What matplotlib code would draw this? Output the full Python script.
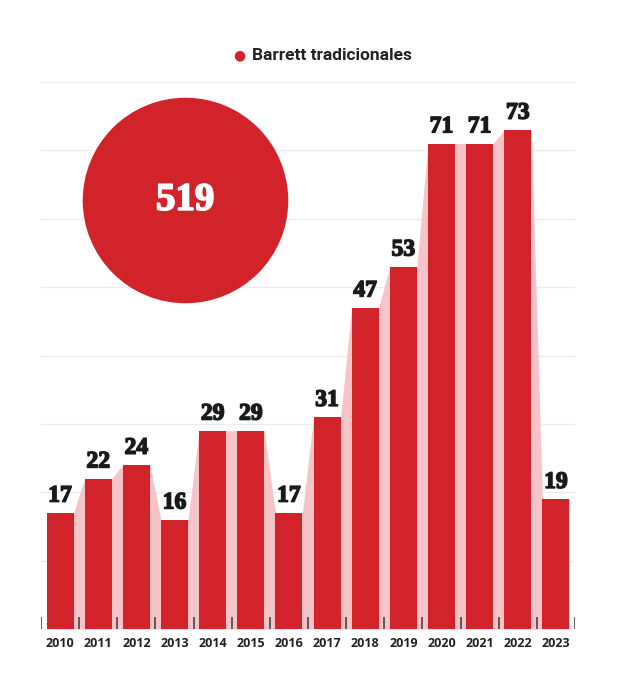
import matplotlib.pyplot as plt
import matplotlib.patheffects as pe
import numpy as np

years = ['2010', '2011', '2012', '2013', '2014', '2015', '2016',
         '2017', '2018', '2019', '2020', '2021', '2022', '2023']
values = [17, 22, 24, 16, 29, 29, 17, 31, 47, 53, 71, 71, 73, 19]
total = 519
serie = 'Barrett tradicionales'

rojo = '#d2232a'
rosa = '#f6c3c8'
w = 0.71

fig = plt.figure(figsize=(6.18, 6.89), dpi=100)
ax = fig.add_axes([41 / 618, 1 - 629 / 689, 534 / 618, 547 / 689])

x = np.arange(len(years))

# area rosa que une las barras
px, py = [], []
for i, v in zip(x, values):
    px += [i - w / 2, i + w / 2]
    py += [v, v]
ax.fill_between(px, py, 0, color=rosa, lw=0, zorder=1)

ax.bar(x, values, width=w, color=rojo, zorder=2)
grueso = [pe.withStroke(linewidth=1.1, foreground='#1a1a1a')]
for i, v in zip(x, values):
    ax.text(i, v + 0.9, str(v), ha='center', va='bottom', fontsize=17,
            fontweight='bold', family='Liberation Serif', color='#1a1a1a',
            zorder=3, path_effects=grueso)

# circulo con el total
ax.scatter([3.28], [62.7], s=148 ** 2, color=rojo, lw=0, zorder=3, clip_on=False)
ax.text(3.28, 62.7, str(total), ha='center', va='center', fontsize=28,
        fontweight='bold', family='Liberation Serif', color='white', zorder=4,
        path_effects=[pe.withStroke(linewidth=1.3, foreground='white')])

ax.set_xlim(-0.5, len(years) - 0.5)
ax.set_ylim(0, 80)
ax.set_yticks(range(10, 81, 10))
ax.yaxis.grid(True, color='#ececec', lw=1, zorder=0)
ax.set_axisbelow(True)
ax.tick_params(axis='y', left=False, labelleft=False)

ax.set_xticks(x)
ax.set_xticklabels(years, fontsize=9, fontweight='bold', family='Open Sans', color='#222222')
ax.tick_params(axis='x', which='major', length=0, pad=6)

# marcas entre categorias, por encima de las barras
ax.vlines(np.arange(-0.5, len(years)), 0, 1.75, color='#444444', lw=1.2, zorder=5)

for s in ax.spines.values():
    s.set_visible(False)

# leyenda
fig.text(239 / 618, 1 - 55 / 689, '\u25cf', color=rojo, fontsize=10, ha='center', va='center')
fig.text(252 / 618, 1 - 55 / 689, serie, fontsize=12.5, fontweight='bold',
         family='Roboto', color='#222222', ha='left', va='center')

fig.savefig('out.png', dpi=100)
